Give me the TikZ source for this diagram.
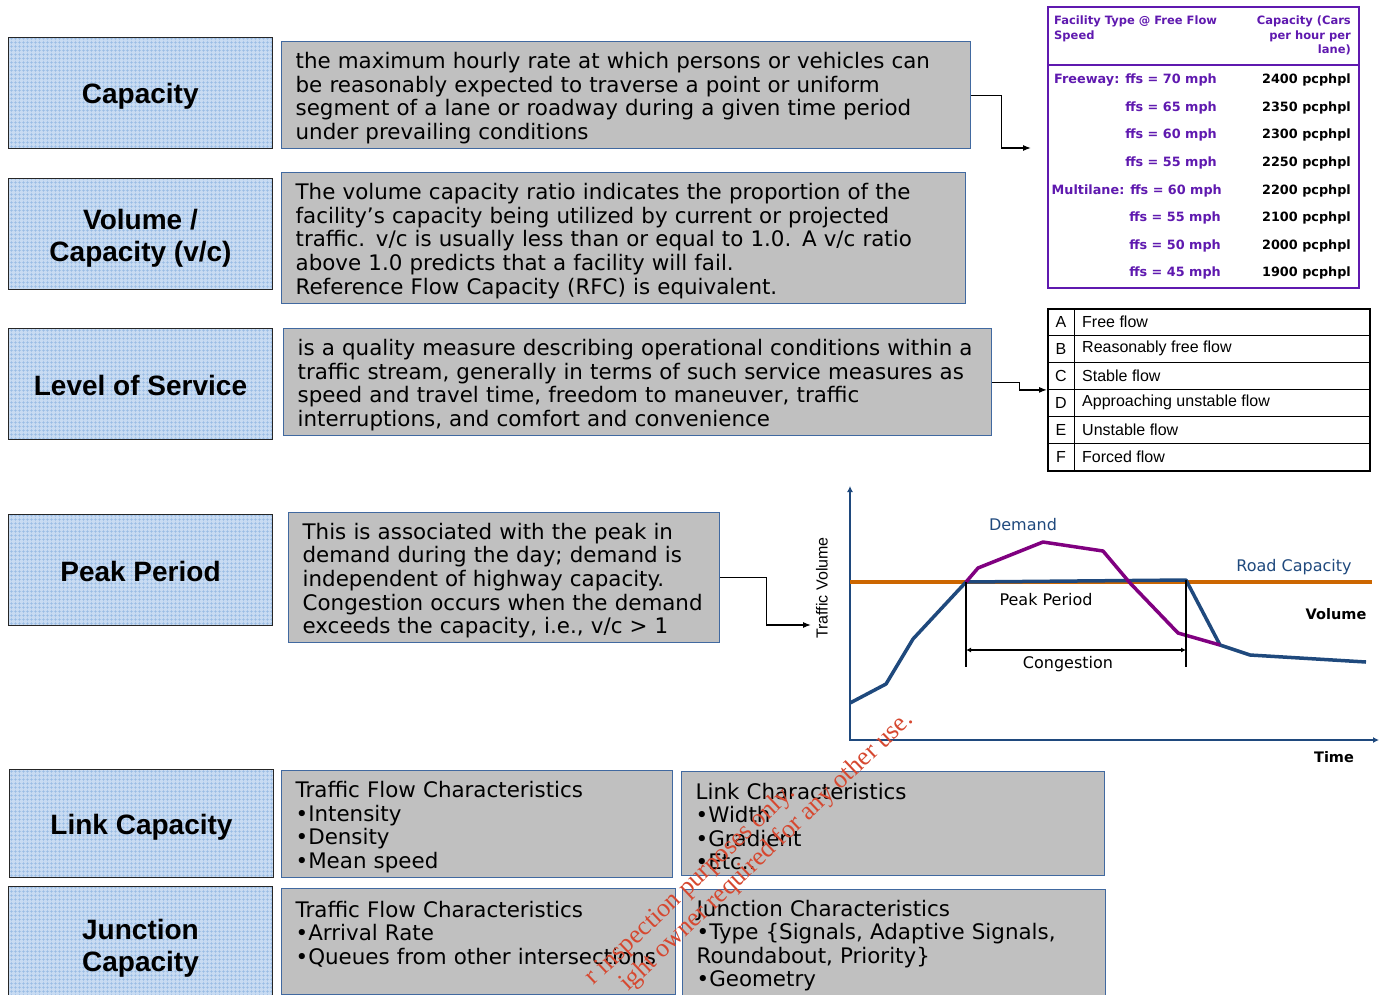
\documentclass[tikz,border=0pt]{standalone}
\usepackage{fontspec}
\setmainfont{DejaVu Sans}
\newfontfamily\headfont{Liberation Sans}
\newfontfamily\markfont{Liberation Serif}
\usetikzlibrary{arrows.meta,patterns.meta,positioning}

\definecolor{termblue}{RGB}{200,219,242}
\definecolor{gridblue}{RGB}{150,186,228}
\definecolor{descgray}{RGB}{192,192,192}
\definecolor{descedge}{RGB}{65,105,160}
\definecolor{tabpurple}{RGB}{95,25,175}
\definecolor{axisblue}{RGB}{31,73,125}
\definecolor{caporange}{RGB}{204,102,0}
\definecolor{demandpurple}{RGB}{128,0,128}
\definecolor{markred}{RGB}{214,72,48}

\tikzset{
  termbox/.style={draw=black!85, line width=1pt, preaction={fill=termblue},
    pattern={Hatch[distance=4pt,line width=0.45pt]}, pattern color=gridblue,
    minimum width=264, minimum height=111, anchor=north west, align=center,
    text height=28pt, text depth=6pt,
    font=\headfont\bfseries\fontsize{28}{32}\selectfont},
  twoline/.style={text height=60pt},
  descbox/.style={draw=descedge, line width=1.3pt, fill=descgray, anchor=north west,
    align=left, inner xsep=14pt, text height=22pt, font=\fontsize{21.4}{23.6}\selectfont},
  link/.style={draw=black, line width=1.2pt, -{Latex[length=8pt,width=6pt]}},
  tabhead/.style={text=tabpurple, inner sep=0pt, font=\bfseries\fontsize{11.5}{14.5}\selectfont},
  tabrow/.style={inner sep=0pt, anchor=east, font=\bfseries\fontsize{12.8}{15}\selectfont},
  lostext/.style={inner sep=0pt, font=\headfont\fontsize{16}{18}\selectfont},
  curve/.style={line width=3.5pt, line join=round},
  graphlabel/.style={inner sep=0pt, font=\fontsize{16}{18}\selectfont},
  watermark/.style={text=markred, inner sep=0pt, rotate=43.5, anchor=base east,
    font=\markfont\fontsize{26}{28}\selectfont}
}

\begin{document}
\begin{tikzpicture}[x=1pt,y=-1pt]
\useasboundingbox (0,0) rectangle (1386,994);
\clip (0,0) rectangle (1386,994);

% terms
\node[termbox] (cap) at (8,37) {Capacity};
\node[termbox, twoline] (vc) at (8,178) {Volume /\\Capacity (v/c)};
\node[termbox] (los) at (8,328) {Level of Service};
\node[termbox] (peak) at (8,514) {Peak Period};
\node[termbox, minimum height=108] (link) at (9,769) {Link Capacity};
\node[termbox, twoline, minimum height=115] (junc) at (8,886) {Junction\\Capacity};

% definitions
\node[descbox, minimum height=107, text width=661] (capdesc) at (281,41)
  {the maximum hourly rate at which persons or vehicles can\\
   be reasonably expected to traverse a point or uniform\\
   segment of a lane or roadway during a given time period\\
   under prevailing conditions};
\node[descbox, minimum height=131, text width=656] (vcdesc) at (281,172)
  {The volume capacity ratio indicates the proportion of the\\
   facility’s capacity being utilized by current or projected\\
   traffic. v/c is usually less than or equal to 1.0. A v/c ratio\\
   above 1.0 predicts that a facility will fail.\\
   Reference Flow Capacity (RFC) is equivalent.};
\node[descbox, minimum height=107, text width=680] (losdesc) at (283,328)
  {is a quality measure describing operational conditions within a\\
   traffic stream, generally in terms of such service measures as\\
   speed and travel time, freedom to maneuver, traffic\\
   interruptions, and comfort and convenience};
\node[descbox, minimum height=130, text width=403] (peakdesc) at (288,512)
  {This is associated with the peak in\\
   demand during the day; demand is\\
   independent of highway capacity.\\
   Congestion occurs when the demand\\
   exceeds the capacity, i.e., v/c > 1};
\node[descbox, minimum height=107, text width=363] (linkflow) at (281,770)
  {Traffic Flow Characteristics\\ •Intensity\\ •Density\\ •Mean speed};
\node[descbox, minimum height=104, text width=395] (linkchar) at (681,771)
  {Link Characteristics\\ •Width\\ •Gradient\\ •Etc..};
\node[descbox, minimum height=106, text width=366] (juncflow) at (281,888)
  {Traffic Flow Characteristics\\ •Arrival Rate\\ •Queues from other intersections\\ \mbox{}};
\node[descbox, minimum height=106, text width=395] (juncchar) at (682,889)
  {Junction Characteristics\\ •Type \{Signals, Adaptive Signals,\\
   Roundabout, Priority\}\\ •Geometry};

% capacity table
\node[draw=tabpurple, line width=2.2pt, minimum width=311, minimum height=281,
  anchor=north west] (captab) at (1047,6) {};
\draw[tabpurple, line width=1.2pt] (1047,65) -- (1358,65);
\node[tabhead, anchor=north west, align=left] (facility) at (1054,16)
  {Facility Type @ Free Flow\\Speed};
\node[tabhead, anchor=north east, align=right] (capunit) at (1351,16)
  {Capacity (Cars\\per hour per\\lane)};
\foreach \lab/\val/\y/\xr in {Freeway: ffs = 70 mph/2400/80/1217, ffs = 65 mph/2350/108/1217,
    ffs = 60 mph/2300/135/1217, ffs = 55 mph/2250/163/1217,
    Multilane: ffs = 60 mph/2200/191/1222, ffs = 55 mph/2100/218/1221,
    ffs = 50 mph/2000/246/1221, ffs = 45 mph/1900/273/1221}{
  \node[tabrow, text=tabpurple] at (\xr,\y) {\lab};
  \node[tabrow] at (1351,\y) {\val\ pcphpl};
}
\coordinate (captip) at (1031,148);

% level of service table
\node[draw, line width=1.8pt, minimum width=322, minimum height=162,
  anchor=north west] (lostab) at (1047,308) {};
\draw[line width=1pt] (1074,308) -- (1074,470);
\foreach \ltr/\desc [count=\i] in {A/Free flow, B/Reasonably free flow, C/Stable flow,
    D/Approaching unstable flow, E/Unstable flow, F/Forced flow}{
  \node[lostext] at (1061,{308+27*\i-13.5}) {\ltr};
  \node[lostext, anchor=west] at (1082,{308+27*\i-13.5}) {\desc};
  \ifnum\i<6 \draw[line width=1pt] (1047,{308+27*\i}) -- (1369,{308+27*\i}); \fi
}

% connectors
\coordinate (peaktip) at (811,625);
\draw[link] (capdesc.east) -- ++(30,0) |- (captip);
\draw[link] (losdesc.east) -- ++(27,0) |- (lostab.west);
\draw[link] (peakdesc.east) -- ++(46,0) |- (peaktip);

% peak period graph
\draw[axisblue, line width=2.5pt, {Latex[length=6pt,width=6pt]}-{Latex[length=6pt,width=6pt]}]
  (850,486) -- (850,740) -- (1379,740);
\draw[caporange, line width=3.5pt] (850,582) -- (1372,582);
\coordinate (cstart) at (966,582);
\coordinate (cend) at (1186,580);
\draw[curve, axisblue] (850,703) -- (886,684) -- (913,639) -- (cstart) -- (cend)
  -- (1220,645) -- (1250,655) -- (1366,662);
\draw[curve, demandpurple] (cstart) -- (978,568) -- (1043,542) -- (1103,551)
  -- (1130,583) -- (1178,633) -- (1220,645);
\draw[line width=1.3pt] (cstart) -- (966,667);
\draw[line width=1.3pt] (cend) -- (1186,667);
\draw[line width=1.8pt, {Latex[length=5pt,width=5pt]}-{Latex[length=5pt,width=5pt]}]
  (966,650) -- (1186,650);
\node[graphlabel, text=axisblue] (demandlab) at (1023,525) {Demand};
\node[graphlabel, text=axisblue] (roadcap) at (1294,567) {Road Capacity};
\node[graphlabel] (peaklab) at (1046,600) {Peak Period};
\node[graphlabel] (conglab) at (1068,664) {Congestion};
\node[graphlabel, font=\bfseries\fontsize{14.5}{17}\selectfont] (vollab) at (1336,614) {Volume};
\node[graphlabel, font=\bfseries\fontsize{14.5}{17}\selectfont] (timelab) at (1334,757) {Time};
\node[lostext, rotate=90] (tvlab) at (822,588) {Traffic Volume};

% stamp
\node[watermark] (stampa) at (796,794) {r inspection purposes only.};
\node[watermark] (stampb) at (914,721) {ight owner required for any other use.};
\end{tikzpicture}
\end{document}
